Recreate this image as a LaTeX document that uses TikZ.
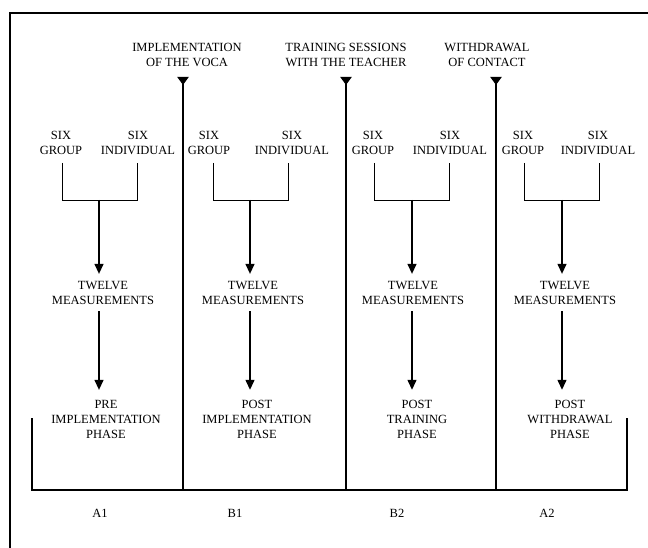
\documentclass[tikz,border=0pt]{standalone}
\usepackage{fontspec}
\setmainfont{Liberation Serif}
\usetikzlibrary{arrows.meta}
\begin{document}
\begin{tikzpicture}[x=1pt,y=-1pt,
  lbl/.style={font=\fontsize{12.5}{15}\selectfont, align=center, inner sep=0pt},
  twl/.style={lbl, outer sep=7pt},
  phs/.style={lbl, outer sep=10pt},
  frame/.style={line width=2.2pt},
  phaseline/.style={line width=2.6pt},
  thinline/.style={line width=0.9pt},
  flow/.style={line width=1.3pt, -{Triangle[width=9pt,length=10pt]}},
  marker/.style={line width=2.6pt, {Triangle[reversed,width=11pt,length=8pt]}-}
]
\useasboundingbox (0,0) rectangle (648,548);
\fill[white] (0,0) rectangle (648,548);

% outer frame (cropped)
\coordinate (fTR) at (648,13);
\coordinate (fTL) at (10,13);
\coordinate (fBL) at (10,548);
\draw[frame] (fTR) -- (fTL) -- (fBL);

% bottom bracket
\coordinate (bL1) at (32,418);
\coordinate (bL2) at (32,490);
\coordinate (bR2) at (627,490);
\coordinate (bR1) at (627,418);
\draw[phaseline] (bL1) -- (bL2) -- (bR2) -- (bR1);

% phase change markers
\node[lbl] (t1) at (187,54.5) {IMPLEMENTATION\\OF THE VOCA};
\node[lbl] (t2) at (346,54.5) {TRAINING SESSIONS\\WITH THE TEACHER};
\node[lbl] (t3) at (487,54.5) {WITHDRAWAL\\OF CONTACT};
\foreach \k/\x in {1/183,2/346,3/496}{
  \coordinate (m\k) at (\x,77);
  \coordinate (e\k) at (\x,490);
  \draw[marker] (m\k) -- (e\k);
}

% columns
\foreach \i/\gx/\ix/\sx/\gt/\it/\tx/\px/\ph in {
  1/62/137/99/61/138/103/106/{PRE\\IMPLEMENTATION\\PHASE},
  2/213/288/250/209/292/253/257/{POST\\IMPLEMENTATION\\PHASE},
  3/374/449/412/373/450/413/417/{POST\\TRAINING\\PHASE},
  4/524/599/562/523/598/565/570/{POST\\WITHDRAWAL\\PHASE}}{
  \node[lbl] (g\i) at (\gt,142.5) {SIX\\GROUP};
  \node[lbl] (n\i) at (\it,142.5) {SIX\\INDIVIDUAL};
  \coordinate (ga\i) at (\gx,163);
  \coordinate (gb\i) at (\gx,200);
  \coordinate (ia\i) at (\ix,163);
  \coordinate (ib\i) at (\ix,200);
  \coordinate (j\i) at (\sx,200);
  \draw[thinline] (ga\i) -- (gb\i) -- (ib\i) -- (ia\i);
  \node[twl] (tw\i) at (\tx,292.5) {TWELVE\\MEASUREMENTS};
  \node[phs] (ph\i) at (\px,419) {\ph};
  \draw[flow] (j\i) -- (j\i |- tw\i.north);
  \draw[flow] (tw\i.south -| j\i) -- (ph\i.north -| j\i);
}

% phase labels
\node[lbl] (a1) at (100,513) {A1};
\node[lbl] (b1) at (235,513) {B1};
\node[lbl] (b2) at (397,513) {B2};
\node[lbl] (a2) at (547,513) {A2};
\end{tikzpicture}
\end{document}
